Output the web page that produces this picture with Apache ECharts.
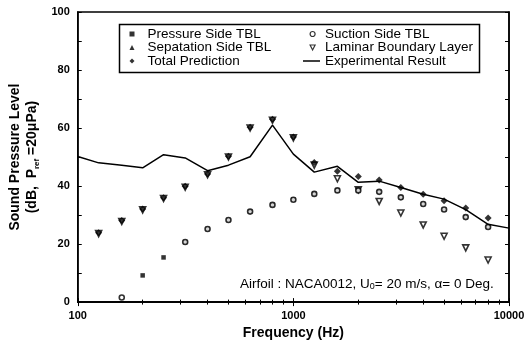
<!DOCTYPE html>
<html><head><meta charset="utf-8">
<script src="https://cdn.jsdelivr.net/npm/echarts@6/dist/echarts.min.js"></script>
<style>html,body{margin:0;padding:0;background:#fff}#c{width:528px;height:345px}</style>
</head><body><div id="c"></div>
<script>
const freqs = [125,160,200,250,315,400,500,630,800,1000,1250,1600,2000,2500,3150,4000,5000,6300,8000];
const totalPred = [23.9,28.1,32.1,36.0,39.9,44.2,50.3,60.3,63.0,56.9,48.1,45.1,43.3,42.1,39.5,37.2,34.9,32.4,29.0];
const suctionTBL = [null,1.6,null,null,20.7,25.2,28.3,31.2,33.5,35.3,37.3,38.5,38.5,38.0,36.1,33.8,31.9,29.3,25.9];
const pressureTBL = [null,null,9.2,15.4,20.7,25.2,28.3,31.2,33.5,35.3,37.3,38.5,38.5,38.0,36.1,33.8,31.9,29.3,25.9];
const separationTBL = [];
const laminarBL = [23.6,27.8,31.8,35.7,39.6,43.9,50.0,60.0,62.7,56.6,47.2,42.5,38.7,34.7,30.7,26.6,22.7,18.7,14.5];
const expFreqs = [100,125,160,200,250,315,400,500,630,800,1000,1250,1600,2000,2500,3150,4000,5000,6300,8000,10000];
const expValues = [50.2,48.0,47.2,46.3,50.8,49.7,45.3,47.2,50.1,61.0,51.0,44.8,46.8,41.3,41.7,39.5,37.2,35.5,31.9,26.8,25.5];
const yTicks = [0,20,40,60,80,100];
const xTicks = [100,1000,10000];

function pairs(xs, ys){ const out=[]; for(let i=0;i<xs.length;i++){ if(ys[i]!=null) out.push([xs[i],ys[i]]);} return out; }

const FONT = 'Liberation Sans';
const INV_TRI = 'path://M0,0L10,0L5,10Z';
const chart = echarts.init(document.getElementById('c'), null, {renderer:'canvas'});
const tickLen = 4;
const legText = {fontFamily:FONT,fontSize:13.5,color:'#000',lineHeight:13};
chart.setOption({
  animation:false,
  backgroundColor:'#fff',
  textStyle:{fontFamily:FONT, color:'#000'},
  grid:{left:77,right:19,top:12,bottom:39,show:true,borderColor:'#000',borderWidth:1.5,backgroundColor:'transparent'},
  xAxis:[{
    type:'log', logBase:10, min:100, max:10000, position:'bottom',
    name:'Frequency (Hz)', nameLocation:'middle', nameGap:22,
    nameTextStyle:{fontFamily:FONT,fontWeight:'bold',fontSize:14,color:'#000'},
    axisLine:{show:true,lineStyle:{color:'#000',width:1.5}},
    axisTick:{show:true,inside:true,length:tickLen,lineStyle:{color:'#000'}},
    minorTick:{show:true,splitNumber:9,length:2.5,lineStyle:{color:'#000'}},
    axisLabel:{fontFamily:FONT,fontWeight:'bold',fontSize:11,color:'#000',margin:8,
      formatter:v=>xTicks.includes(Math.round(v))?String(Math.round(v)):''},
    splitLine:{show:false}
  },{
    type:'log', logBase:10, min:100, max:10000, position:'top',
    axisLine:{show:true,lineStyle:{color:'#000',width:1.5}},
    axisTick:{show:true,inside:true,length:tickLen,lineStyle:{color:'#000'}},
    minorTick:{show:true,splitNumber:9,length:2.5,lineStyle:{color:'#000'}},
    axisLabel:{show:false}, splitLine:{show:false}
  }],
  yAxis:[{
    type:'value', min:0, max:100, interval:20, position:'left',
    name:'{t|Sound Pressure Level}\n{t|(dB,  P}{s|ref}{t| =20μPa)}',
    nameLocation:'middle', nameGap:13, nameRotate:90,
    nameTextStyle:{rich:{
      t:{fontFamily:FONT,fontWeight:'bold',fontSize:14,color:'#000',lineHeight:17},
      s:{fontFamily:FONT,fontWeight:'bold',fontSize:8,color:'#000',lineHeight:17,verticalAlign:'bottom',padding:[6,0,0,0]}
    }},
    axisLine:{show:true,lineStyle:{color:'#000',width:1.5}},
    axisTick:{show:true,inside:true,length:tickLen,lineStyle:{color:'#000'}},
    minorTick:{show:true,splitNumber:2,length:tickLen,lineStyle:{color:'#000'}},
    axisLabel:{fontFamily:FONT,fontWeight:'bold',fontSize:11,color:'#000',margin:8,
      formatter:v=>yTicks.includes(v)?String(v):''},
    splitLine:{show:false}
  },{
    type:'value', min:0, max:100, interval:20, position:'right',
    axisLine:{show:true,lineStyle:{color:'#000',width:1.5}},
    axisTick:{show:true,inside:true,length:tickLen,lineStyle:{color:'#000'}},
    minorTick:{show:true,splitNumber:2,length:tickLen,lineStyle:{color:'#000'}},
    axisLabel:{show:false}, splitLine:{show:false}
  }],
  legend:[{
    orient:'vertical', left:129.5, top:27, padding:0, itemWidth:5, itemHeight:5, itemGap:-0.5,
    textStyle:Object.assign({padding:[0,0,0,8]},legText),
    data:['Pressure Side TBL','Sepatation Side TBL','Total Prediction']
  },{
    orient:'vertical', left:309.5, top:27, padding:0, itemWidth:5, itemHeight:5, itemGap:-0.5,
    textStyle:Object.assign({padding:[0,0,0,5]},legText),
    data:[{name:'Suction Side TBL',itemStyle:{borderWidth:1.2}},
          {name:'Laminar Boundary Layer',icon:INV_TRI,itemStyle:{borderWidth:1.2}}]
  },{
    orient:'vertical', left:303, top:54, padding:0, itemWidth:17, itemHeight:1.5, itemGap:0,
    textStyle:legText,
    data:[{name:'Experimental Result',icon:'rect'}]
  }],
  graphic:[{
    type:'rect', left:117, top:22, shape:{width:360,height:48},
    style:{fill:'none',stroke:'#000',lineWidth:1.5}, z:100
  },{
    type:'text', left:240, top:277.5, z:100,
    style:{text:'{a|Airfoil : NACA0012, U}{b|0}{a|= 20 m/s, α= 0 Deg.}',
      rich:{a:{fontFamily:FONT,fontSize:13.5,fill:'#000'},b:{fontFamily:FONT,fontSize:9,fill:'#000',padding:[5,0,0,0]}}}
  }],
  series:[
    {name:'Laminar Boundary Layer', type:'scatter', data:pairs(freqs,laminarBL),
     symbol:INV_TRI, symbolSize:6,
     itemStyle:{color:'#fff',borderColor:'#000',borderWidth:1.6}, z:2},
    {name:'Pressure Side TBL', type:'scatter', data:pairs(freqs,pressureTBL),
     symbol:'rect', symbolSize:4.5, itemStyle:{color:'#000'}, z:3},
    {name:'Suction Side TBL', type:'scatter', data:pairs(freqs,suctionTBL),
     symbol:'circle', symbolSize:5, itemStyle:{color:'#fff',borderColor:'#000',borderWidth:1.6}, z:4},
    {name:'Sepatation Side TBL', type:'scatter', data:separationTBL,
     symbol:'triangle', symbolSize:5, itemStyle:{color:'#000'}, z:4},
    {name:'Total Prediction', type:'scatter', data:pairs(freqs,totalPred),
     symbol:'diamond', symbolSize:7, itemStyle:{color:'#000'}, z:5},
    {name:'Experimental Result', type:'line', data:pairs(expFreqs,expValues),
     symbol:'none', lineStyle:{color:'#000',width:1.5}, itemStyle:{color:'#000'}, z:6}
  ]
});
</script></body></html>
